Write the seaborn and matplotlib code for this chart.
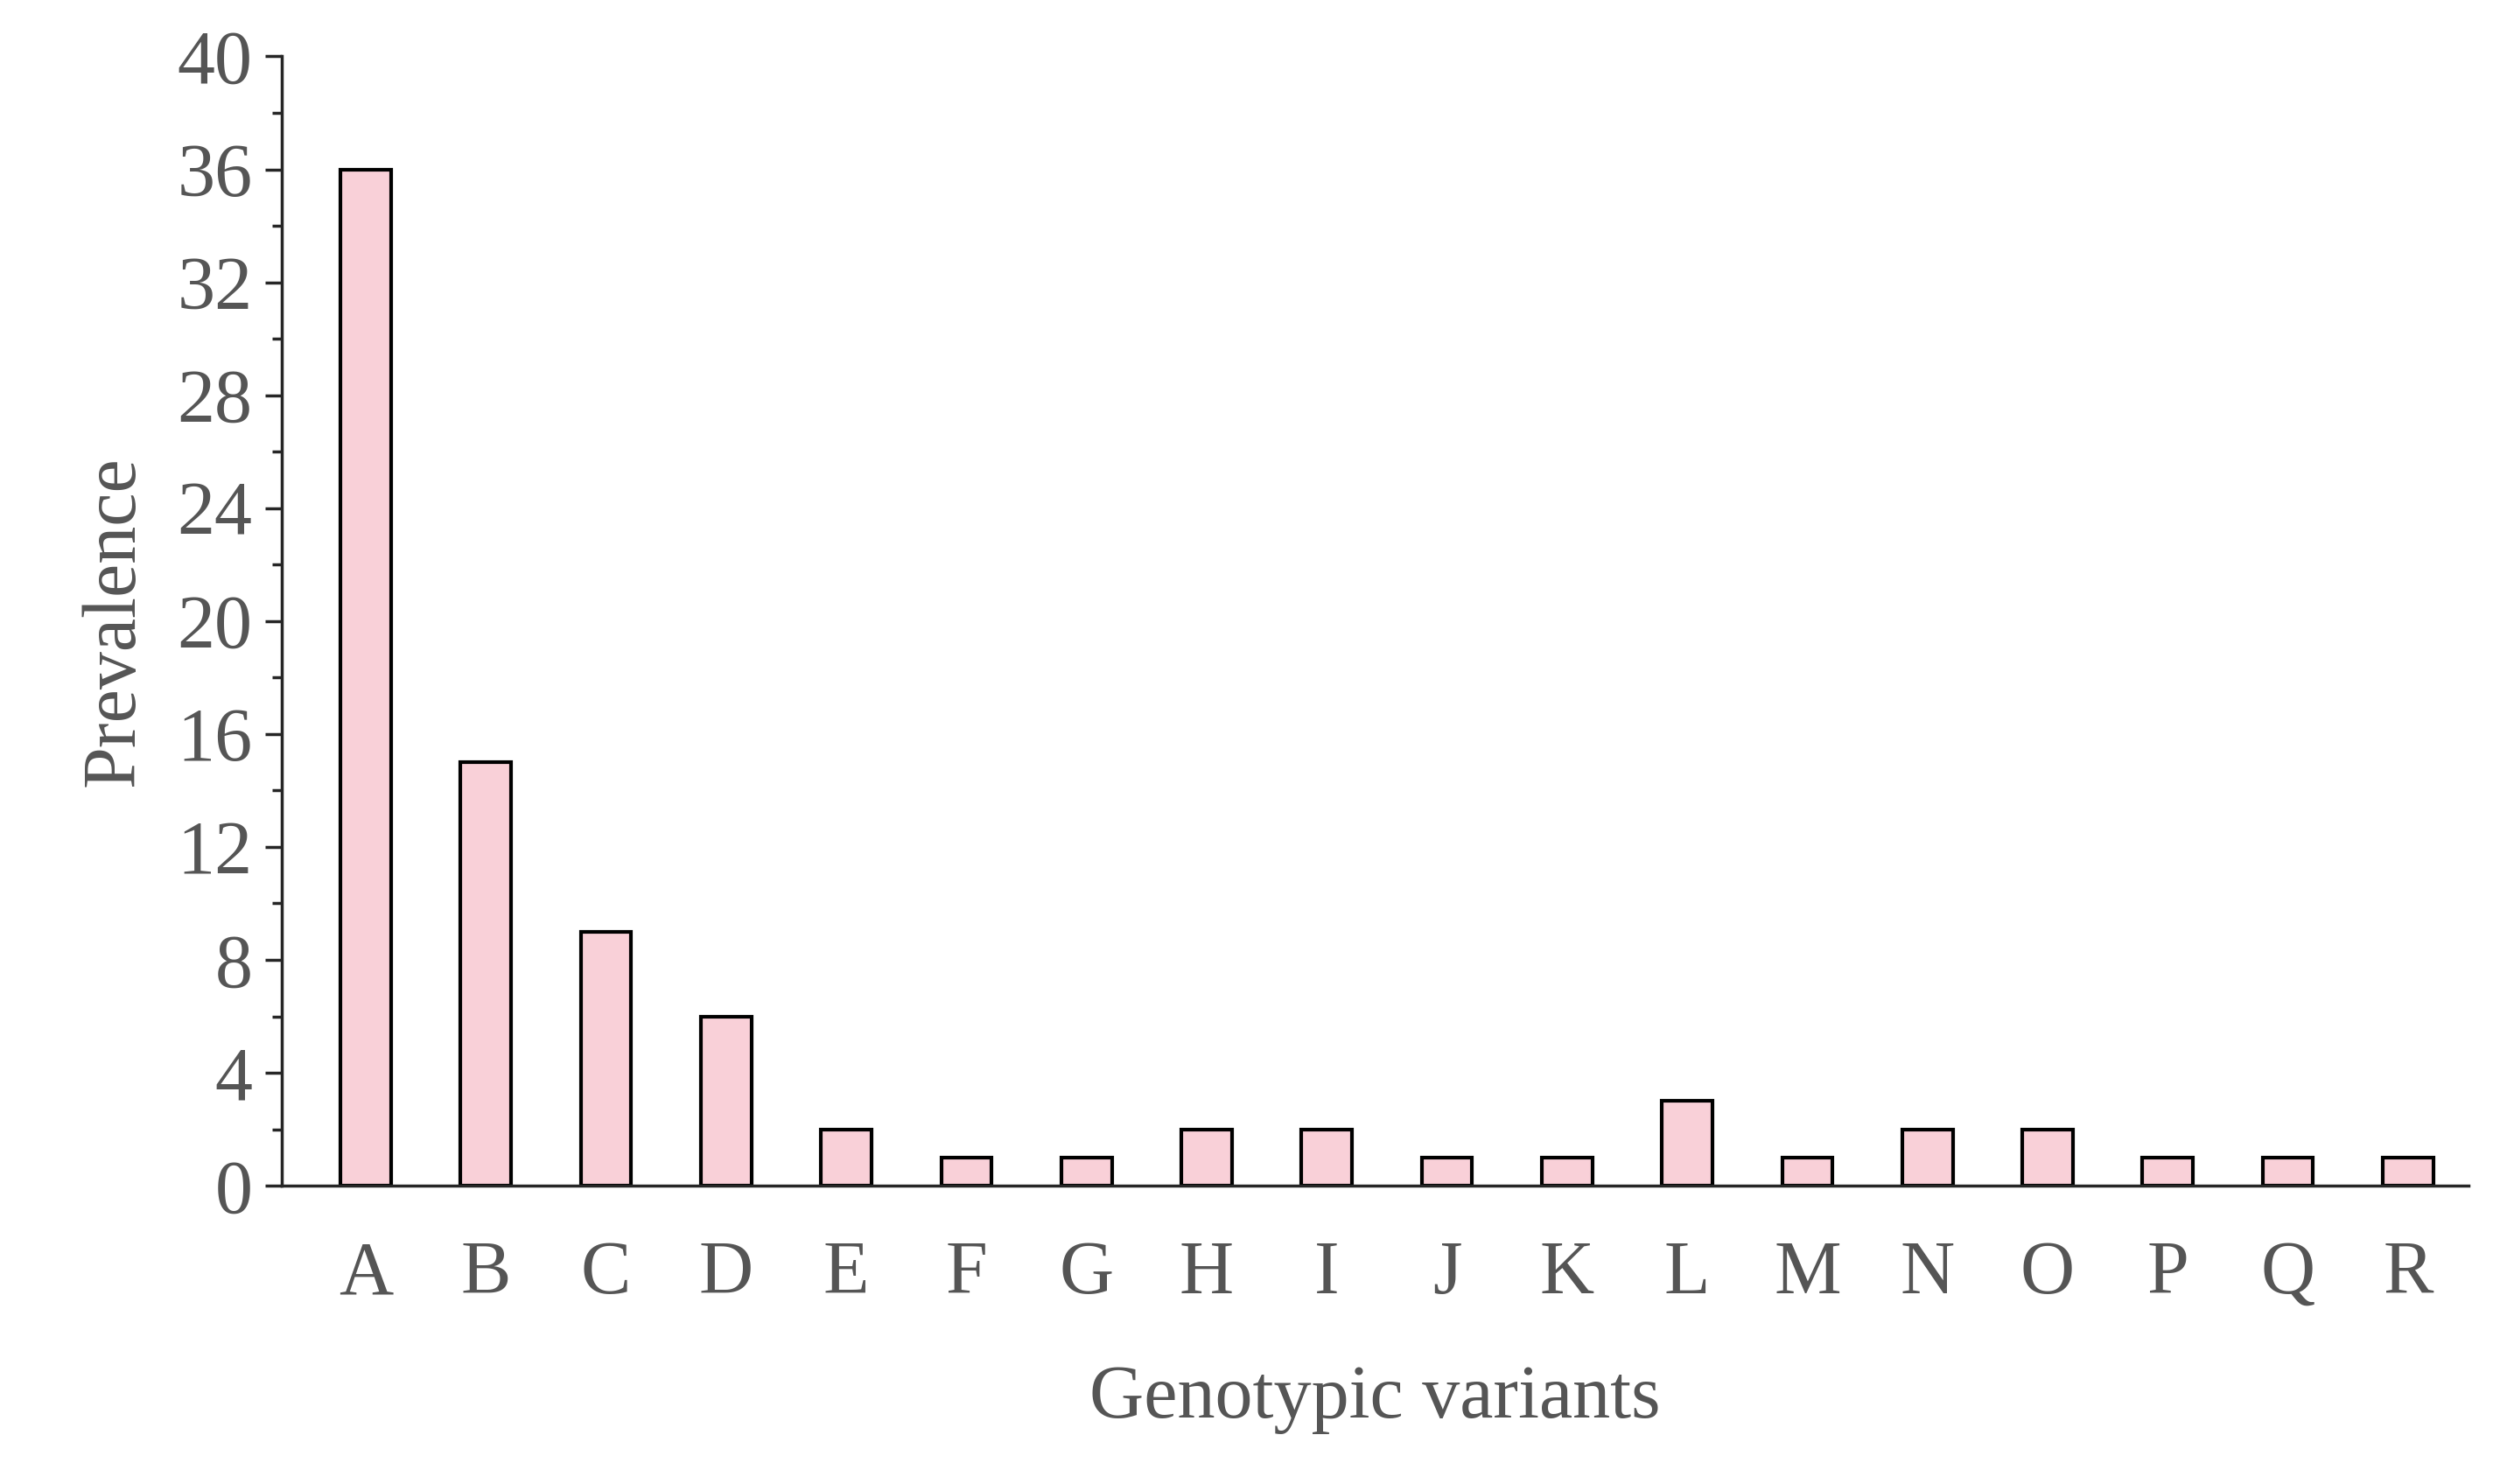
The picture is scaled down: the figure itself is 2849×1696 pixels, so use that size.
import matplotlib
matplotlib.use("Agg")
import matplotlib.pyplot as plt
import seaborn as sns
import pandas as pd
from matplotlib.ticker import MultipleLocator

categories = list("ABCDEFGHIJKLMNOPQR")
prevalence = [36, 15, 9, 6, 2, 1, 1, 2, 2, 1, 1, 3, 1, 2, 2, 1, 1, 1]
df = pd.DataFrame({"variant": categories, "prevalence": prevalence})

sns.set_style("ticks")
plt.rcParams['font.family'] = ['Liberation Serif', 'DejaVu Serif']
grey = "#555555"

fig = plt.figure(figsize=(28.49, 16.96), dpi=100)
ax = fig.add_axes([0.113, 0.201, 0.877, 0.761])
sns.barplot(data=df, x="variant", y="prevalence", color="#f9d0d8",
            edgecolor="black", linewidth=3, width=0.42, ax=ax, saturation=1)
ax.set_ylim(0, 40)
ax.set_xlim(-0.7, 17.5)
ax.yaxis.set_major_locator(MultipleLocator(4))
ax.yaxis.set_minor_locator(MultipleLocator(2))
ax.tick_params(axis="y", which="major", length=14, width=2.5, labelsize=62, labelcolor=grey, pad=10)
ax.tick_params(axis="y", which="minor", length=8, width=2.5)
ax.tick_params(axis="x", length=0, labelsize=62, labelcolor=grey, pad=45)
for s in ["top", "right"]:
    ax.spines[s].set_visible(False)
for s in ["left", "bottom"]:
    ax.spines[s].set_linewidth(2.5)
ax.set_xlabel("Genotypic variants", fontsize=62, color=grey, labelpad=45)
ax.set_ylabel("Prevalence", fontsize=62, color=grey, labelpad=22)
fig.savefig("out.png", dpi=100)
